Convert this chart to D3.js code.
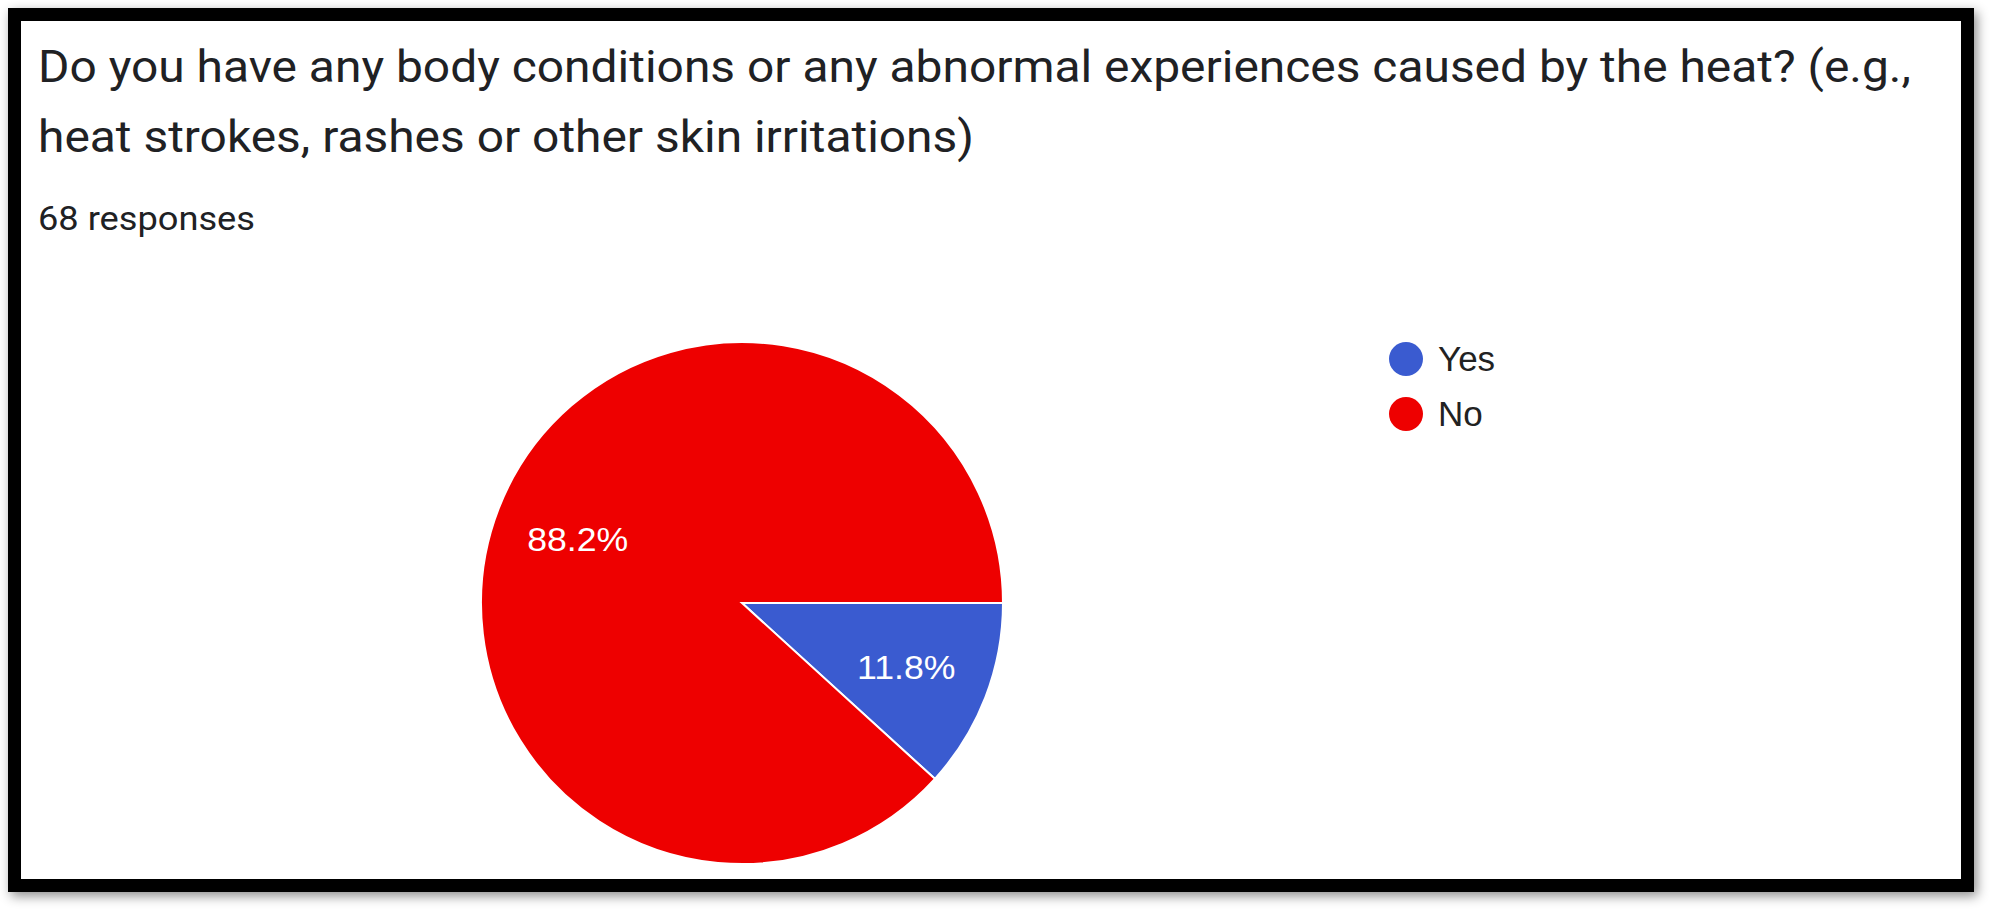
<!DOCTYPE html>
<html>
<head>
<meta charset="utf-8">
<script src="https://cdn.jsdelivr.net/npm/d3@7"></script>
<style>
  body { margin: 0; background: #fff; }
</style>
</head>
<body>
<script>
// data
var categories = ["Yes", "No"];
var counts = [8, 60];
var colors = ["#3a5bd0", "#ee0000"];
var titleLines = [
	"Do you have any body conditions or any abnormal experiences caused by the heat? (e.g.,",
	"heat strokes, rashes or other skin irritations)"
];
var subtitle = "68 responses";

var w = 2000;
var h = 917;

var svg = d3.select("body")
	.append("svg")
	.attr("width", w)
	.attr("height", h);

// soft shadow round the frame
var defs = svg.append("defs");
var f = defs.append("filter")
	.attr("id", "shadow")
	.attr("x", "-5%").attr("y", "-5%")
	.attr("width", "110%").attr("height", "110%");
f.append("feDropShadow")
	.attr("dx", 3)
	.attr("dy", 4)
	.attr("stdDeviation", 6)
	.attr("flood-color", "#000")
	.attr("flood-opacity", 0.45);

svg.append("rect")
	.attr("x", 14.5)
	.attr("y", 14.5)
	.attr("width", 1953)
	.attr("height", 871)
	.attr("fill", "#fff")
	.attr("stroke", "#000")
	.attr("stroke-width", 13)
	.attr("filter", "url(#shadow)");

// title and response count (screenshot is a little stretched sideways)
var head = svg.append("g")
	.attr("transform", "translate(38,0) scale(1.065,1)");

head.selectAll("text.title")
	.data(titleLines)
	.enter()
	.append("text")
	.attr("class", "title")
	.attr("x", 0)
	.attr("y", function(d, i) { return 82 + i * 70; })
	.attr("font-family", "Roboto, sans-serif")
	.attr("font-size", "45px")
	.attr("fill", "#202124")
	.text(function(d) { return d; });

head.append("text")
	.attr("x", 0)
	.attr("y", 230)
	.attr("font-family", "Roboto, sans-serif")
	.attr("font-size", "34px")
	.attr("fill", "#202124")
	.text(subtitle);

// pie
var cx = 742, cy = 603, radius = 261;
var total = d3.sum(counts);
var pct = d3.format(".1%");

var pie = d3.pie()
	.sort(null)
	.startAngle(Math.PI / 2)
	.endAngle(Math.PI / 2 + 2 * Math.PI);

var arc = d3.arc()
	.innerRadius(0)
	.outerRadius(radius);

var labelArc = d3.arc()
	.innerRadius(radius * 0.675)
	.outerRadius(radius * 0.675);

var g = svg.append("g")
	.attr("transform", "translate(" + cx + "," + cy + ")");

var arcs = pie(counts);

g.selectAll("path")
	.data(arcs)
	.enter()
	.append("path")
	.attr("d", arc)
	.attr("fill", function(d, i) { return colors[i]; })
	.attr("stroke", "#fff")
	.attr("stroke-width", 2);

g.selectAll("text")
	.data(arcs)
	.enter()
	.append("text")
	.attr("transform", function(d) { return "translate(" + labelArc.centroid(d) + ") scale(1.08,1)"; })
	.attr("dy", "0.36em")
	.attr("text-anchor", "middle")
	.attr("font-family", "Arial, 'Liberation Sans', sans-serif")
	.attr("font-size", "33px")
	.attr("fill", "#fff")
	.text(function(d) { return pct(d.value / total); });

// legend
var legend = svg.append("g")
	.attr("transform", "translate(1406,359)");

var item = legend.selectAll("g")
	.data(categories)
	.enter()
	.append("g")
	.attr("transform", function(d, i) { return "translate(0," + i * 55 + ")"; });

item.append("circle")
	.attr("r", 17)
	.attr("fill", function(d, i) { return colors[i]; });

item.append("text")
	.attr("x", 32)
	.attr("y", 12)
	.attr("font-family", "Arial, 'Liberation Sans', sans-serif")
	.attr("font-size", "35px")
	.attr("fill", "#222")
	.text(function(d) { return d; });
</script>
</body>
</html>
